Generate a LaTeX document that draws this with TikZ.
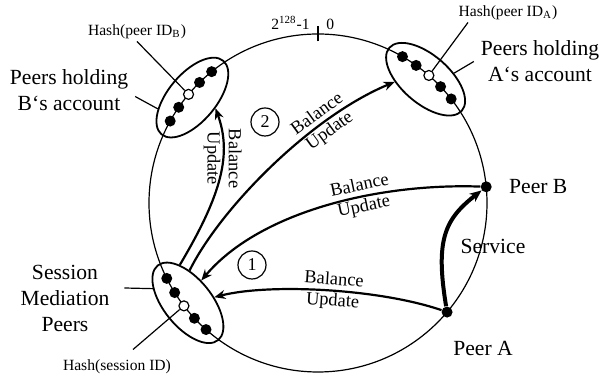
\documentclass[tikz,border=0pt]{standalone}
\usepackage{fontspec}
\setmainfont{Liberation Serif}
\usetikzlibrary{arrows.meta,shapes.geometric,positioning}

\begin{document}
\begin{tikzpicture}[x=0.5pt,y=0.5pt]
   \tikzstyle{ring}=[line width=0.6pt]
   \tikzstyle{peer}=[circle,fill=black,inner sep=0pt,minimum size=5.5pt]
   \tikzstyle{hashpt}=[circle,draw=black,fill=white,line width=0.6pt,inner sep=0pt,minimum size=5pt]
   \tikzstyle{grp}=[ellipse,draw,line width=0.9pt,inner sep=0pt,minimum width=48pt,minimum height=24pt]
   \tikzstyle{ptr}=[line width=0.6pt]
   \tikzstyle{upd}=[line width=1.1pt,-{Stealth[length=5.5pt,width=4.5pt]}]
   \tikzstyle{svc}=[line width=2pt,-{Stealth[length=6pt,width=5pt]}]
   \tikzstyle{big}=[font=\fontsize{10.8}{13}\selectfont,align=center]
   \tikzstyle{lbl}=[font=\fontsize{9.2}{10.6}\selectfont,align=center,inner sep=0pt]
   \tikzstyle{small}=[font=\fontsize{7.8}{9}\selectfont,inner sep=1pt]
   \tikzstyle{num}=[circle,draw,line width=0.6pt,inner sep=0pt,minimum size=14pt,font=\fontsize{9}{10}\selectfont]

   \useasboundingbox (0,0) rectangle (600,379);
   \coordinate (c) at (318,176);
   \coordinate (zero) at ([shift={(90:169)}]c);
   \draw [ring] (c) circle [radius=169];
   \draw [ring] ([yshift=-3.75pt]zero) -- ([yshift=3.75pt]zero);
   \node [small,anchor=south east] (top) at ([xshift=-3pt,yshift=1pt]zero) {2\textsuperscript{128}-1};
   \node [small,anchor=south west] (bot) at ([xshift=3pt,yshift=1pt]zero) {0};

   \node [grp,rotate=50] (bell) at ([shift={(140:164)}]c) {};
   \node [grp,rotate=-41] (aell) at ([shift={(49:164)}]c) {};
   \node [grp,rotate=-51] (sell) at ([shift={(217.5:164)}]c) {};

   \foreach \a [count=\i] in {151,145.5,134.5,129}
      \node [peer] (b\i) at ([shift={(\a:169)}]c) {};
   \foreach \a [count=\i] in {60,54.5,43.5,38}
      \node [peer] (a\i) at ([shift={(\a:169)}]c) {};
   \foreach \a [count=\i] in {206.5,212,223,228.5}
      \node [peer] (s\i) at ([shift={(\a:169)}]c) {};
   \node [hashpt] (bw) at ([shift={(140:169)}]c) {};
   \node [hashpt] (aw) at ([shift={(49:169)}]c) {};
   \node [hashpt] (sw) at ([shift={(217.5:169)}]c) {};

   \node [peer] (pB) at ([shift={(5.5:169)}]c) {};
   \node [peer] (pA) at ([shift={(-40.2:169)}]c) {};
   \node [big,right=5pt of pB] (pBl) {Peer B};
   \node [big,below=8pt of pA,xshift=18pt] (pAl) {Peer A};

   \node [big] (bacc) at (69,288.5) {Peers holding\\B‘s account};
   \node [big] (aacc) at (540,317.5) {Peers holding\\A‘s account};
   \node [big] (sess) at (65,81) {Session\\Mediation\\Peers};
   \node [small] (hashb) at (137,347) {Hash(peer ID\textsubscript{B})};
   \node [small] (hasha) at (508,366) {Hash(peer ID\textsubscript{A})};
   \node [small] (hashs) at (117,12) {Hash(session ID)};

   \draw [ptr] ([yshift=-3pt]bacc.east) -- (bell.148);
   \draw [ptr] (aacc.west) -- (aell.53);
   \draw [ptr] ([xshift=4pt,yshift=5pt]sess.east) -- (sell.209);
   \draw [ptr] (hashb.south) -- (bw);
   \draw [ptr] ([xshift=-20pt]hasha.south) -- (aw);
   \draw [ptr] ([xshift=8pt,yshift=4pt]hashs.north) -- (sw);

   \draw [upd] (sell.153) .. controls (222,185) and (232,225) .. (bell.-75)
      node [lbl,pos=.63,rotate=-90] (u1) {Balance\\Update};
   \draw [upd] (sell.138) .. controls (220,170) and (310,262) .. (aell.226)
      node [lbl,pos=.72,sloped] (u2) {Balance\\Update};
   \draw [upd] (pB) .. controls (380,196) and (260,168) .. (sell.110)
      node [lbl,pos=.38,sloped] (u3) {Balance\\Update};
   \draw [upd] (pA) .. controls (380,90) and (270,96) .. (sell.63)
      node [lbl,pos=.47,sloped] (u4) {Balance\\Update};
   \draw [svc] (pA) .. controls (435,140) and (445,160) .. (pB);
   \node [big] (srv) at (493,133) {Service};

   \node [num] (n1) at (252,114) {1};
   \node [num] (n2) at (265,257) {2};
\end{tikzpicture}
\end{document}
